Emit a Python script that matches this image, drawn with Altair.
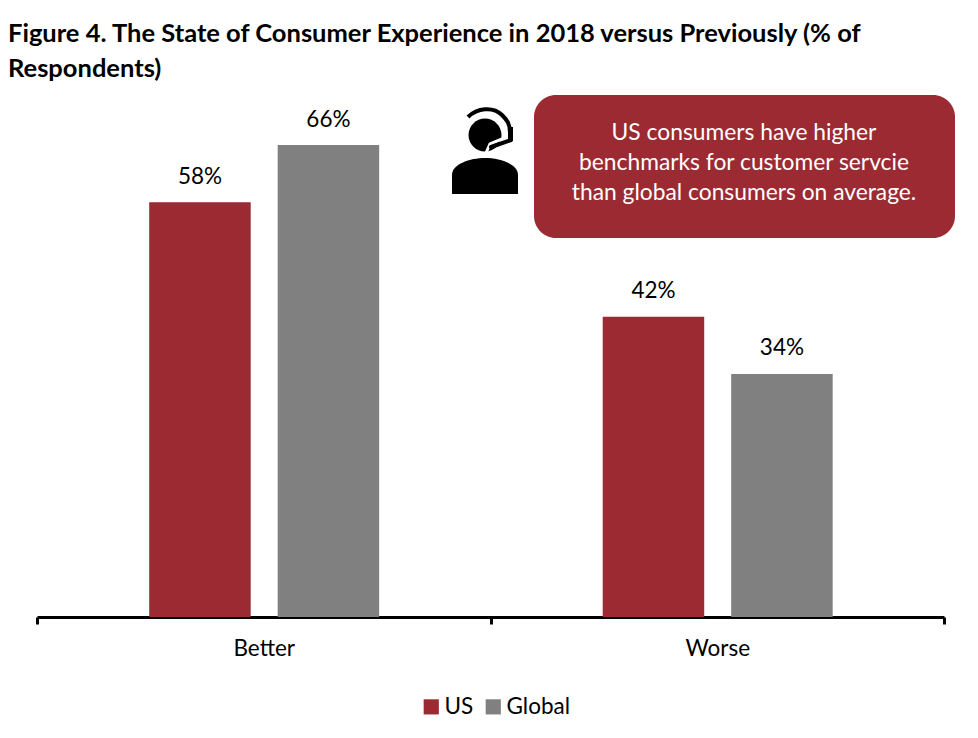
import altair as alt
import pandas as pd

categories = ["Better", "Better", "Worse", "Worse"]
series = ["US", "Global", "US", "Global"]
values = [58, 66, 42, 34]
title_lines = ["Figure 4. The State of Consumer Experience in 2018 versus Previously (% of", "Respondents)"]
callout = "US consumers have higher\nbenchmarks for customer servcie\nthan global consumers on average."

RED = "#9B2A32"
GREY = "#808080"
FONT = "Lato"
FS = 22.5

df = pd.DataFrame({"cat": categories, "series": series, "value": values})
df["label"] = df["value"].astype(str) + "%"

x = alt.X("cat:N", title=None, scale=alt.Scale(paddingInner=0, paddingOuter=0),
          axis=alt.Axis(labelAngle=0, tickBand="extent", tickSize=7, tickWidth=3, tickColor="black",
                        domainWidth=3, domainColor="black", labelFontSize=FS, labelFont=FONT,
                        labelColor="black", labelPadding=13, grid=False))
xo = alt.XOffset("series:N", sort=["US", "Global"],
                 scale=alt.Scale(paddingInner=0.21, paddingOuter=0.87, align=0.502))
y = alt.Y("value:Q", title=None, scale=alt.Scale(domain=[0, 70]), axis=None)

bars = alt.Chart(df).mark_bar().encode(
    x=x, xOffset=xo, y=y,
    color=alt.Color("series:N", sort=["US", "Global"],
                    scale=alt.Scale(domain=["US", "Global"], range=[RED, GREY]),
                    legend=alt.Legend(title=None, orient="none", legendX=383, legendY=579,
                                      direction="horizontal", symbolType="square", symbolSize=230,
                                      symbolStrokeWidth=0, labelFontSize=FS, labelFont=FONT,
                                      labelColor="black", columnPadding=8, labelOffset=2)))
labels = alt.Chart(df).mark_text(fontSize=FS, font=FONT, color="black", dy=-25.5).encode(
    x=x, xOffset=xo, y=y, text="label:N")

one = pd.DataFrame({"a": [1]})
box = alt.Chart(one).mark_rect(color=RED, cornerRadius=22).encode(
    x=alt.value(497), x2=alt.value(918), y=alt.value(-21.5), y2=alt.value(121.5))
box_text = alt.Chart(one).mark_text(fontSize=22.8, font=FONT, color="white", lineBreak="\n",
                                    lineHeight=30, align="center", baseline="middle").encode(
    x=alt.value(707), y=alt.value(16), text=alt.value(callout))

def glyph(path, color, filled=True, sw=0, cap="butt"):
    return alt.Chart(one).mark_point(
        shape=path, size=10000, filled=filled, opacity=1,
        color=color, strokeWidth=sw, strokeCap=cap).encode(x=alt.value(448), y=alt.value(33.5))

def scaled(cmds):
    out = []
    for c in cmds:
        out.append(c[0] + " " + " ".join(f"{v/50:.4f}" for v in c[1:]))
    return " ".join(out)

body = scaled([("M", -33, 44), ("L", -33, 25), ("C", -33, 14, -15, 8, 0, 8),
               ("C", 15, 8, 33, 14, 33, 25), ("L", 33, 44), ("Z",)])
head = scaled([("M", 0, -31.5), ("C", 9, -31.5, 16.5, -24, 16.5, -15), ("C", 16.5, -6, 9, 1.5, 0, 1.5),
               ("C", -9, 1.5, -16.5, -6, -16.5, -15), ("C", -16.5, -24, -9, -31.5, 0, -31.5), ("Z",)])
band = scaled([("M", -17, -33), ("C", -8, -42, 8, -44, 17, -35), ("C", 22, -30, 25, -26, 25, -18)])
ear = scaled([("M", 23, -23), ("L", 28, -23), ("L", 28, -9), ("L", 23, -9), ("Z",)])
boom = scaled([("M", 26, -10), ("L", 6, -3)])
halo = scaled([("M", 17, -11), ("L", 5, -6), ("L", 1, 3)])

chart = alt.layer(
    box, box_text, bars, labels,
    glyph(body, "black"), glyph(head, "black"),
    glyph(halo, "white", False, 3), glyph(band, "black", False, 4),
    glyph(ear, "black"), glyph(boom, "black", False, 4, "round"),
).properties(
    width=907, height=500.5,
    title=alt.TitleParams(text=title_lines, anchor="start", frame="group", dx=-29, offset=13,
                          fontSize=25.5, fontWeight="bold", font=FONT, color="black", lineHeight=35),
    autosize=alt.AutoSizeParams(type="none"),
    padding={"left": 29, "top": 108.5, "right": 26, "bottom": 110},
).configure_view(stroke=None).configure_bar(binSpacing=0)

chart.save("out.html", embed_options={"renderer": "svg", "actions": False})
